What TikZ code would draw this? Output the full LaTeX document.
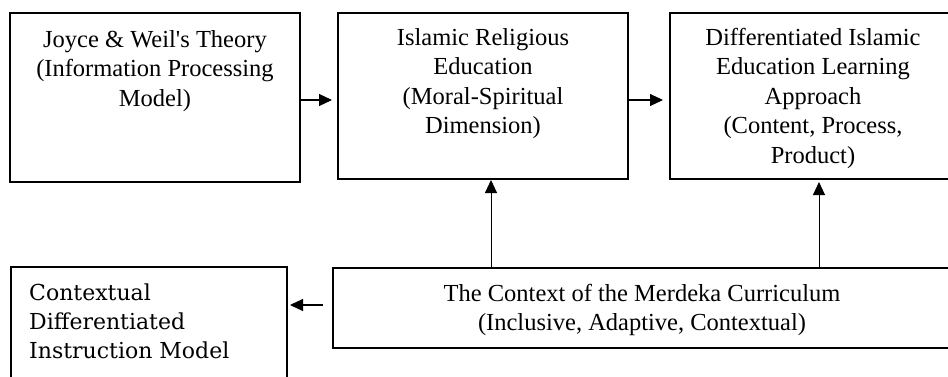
\documentclass[tikz,border=0pt]{standalone}
\usepackage{fontspec}
\setmainfont{Liberation Serif}[Ligatures=TeXOff]
\newfontfamily\boxfourfont{DejaVu Serif}[Ligatures=TeXOff]
\usetikzlibrary{arrows.meta}
\begin{document}
\begin{tikzpicture}[x=1pt,y=-1pt,
  box/.style={draw, line width=1.8pt, inner sep=0pt, outer sep=0pt, anchor=north west},
  lbl/.style={anchor=north, inner sep=0pt, align=center, font=\fontsize{24.5}{29.5}\selectfont},
  harr/.style={line width=1.1pt, -{Triangle[length=13pt,width=12pt]}},
  varr/.style={line width=0.9pt, -{Triangle[length=13pt,width=12pt]}}]
\useasboundingbox (0,0) rectangle (948,376);
\clip (0,0) rectangle (948,376);
% boxes
\node[box, minimum width=290pt, minimum height=169pt] (b1) at (10,13) {};
\node[box, minimum width=290pt, minimum height=166pt] (b2) at (338,13) {};
\node[box, minimum width=286pt, minimum height=166pt] (b3) at (670,13) {};
\node[box, minimum width=276pt, minimum height=150pt] (b4) at (11,267) {};
\node[box, minimum width=618pt, minimum height=80pt] (b5) at (333,268) {};
% texts
\node[lbl] (t1) at (155,26.35) {\strut Joyce \& Weil's Theory\\(Information Processing\\Model)};
\node[lbl] (t2) at (483,24.35) {\strut Islamic Religious\\Education\\(Moral-Spiritual\\Dimension)};
\node[lbl] (t3) at (813,24.35) {\strut Differentiated Islamic\\Education Learning\\Approach\\(Content, Process,\\Product)};
\node[anchor=north west, inner sep=0pt, align=left, font=\boxfourfont\fontsize{22}{29}\selectfont] (t4) at (29,279.7) {\strut Contextual\\Differentiated\\Instruction Model};
\node[anchor=north, inner sep=0pt, align=center, font=\fontsize{24.5}{28.5}\selectfont] (t5) at (642,281.35) {\strut The Context of the Merdeka Curriculum\\(Inclusive, Adaptive, Contextual)};
% helper coordinates
\coordinate (ya) at (0,100);
\coordinate (yb) at (0,305);
\coordinate (xa) at (491,0);
\coordinate (xb) at (819,0);
% connectors
\draw[harr, shorten >=6pt] (b1.east |- ya) -- (b2.west |- ya);
\draw[harr, shorten >=7pt] (b2.east |- ya) -- (b3.west |- ya);
\draw[harr, shorten <=10pt, shorten >=3pt] (b5.west |- yb) -- (b4.east |- yb);
\draw[varr, shorten >=1pt] (b5.north -| xa) -- (b2.south -| xa);
\draw[varr, shorten >=3pt] (b5.north -| xb) -- (b3.south -| xb);
\end{tikzpicture}
\end{document}
